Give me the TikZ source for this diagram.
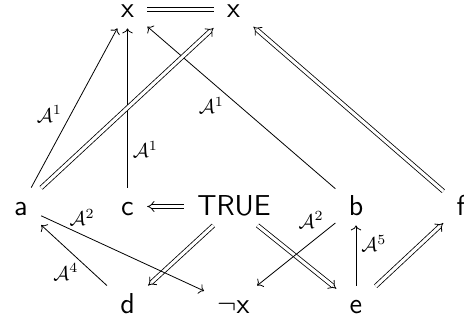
\documentclass[tikz,border=0pt]{standalone}
\usepackage{amsmath,amssymb}
\usepackage{tikz}
\usetikzlibrary{calc, positioning, arrows.meta}

\begin{document}
\begin{tikzpicture}[
  x=0.5pt, y=-0.5pt,
  objnode/.style={font=\Large\sffamily, anchor=base, text height=10pt, text depth=1.5pt, inner xsep=6.5pt, inner ysep=3.5pt},
  maparrow/.style={-{To}},
  implarrow/.style={double equal sign distance, -{Implies}},
  eqline/.style={double equal sign distance},
  maplabel/.style={font=\normalsize, inner sep=1pt}
]
\useasboundingbox (0,0) rectangle (464,320);
% top row
\node[objnode] (xl) at (127.5,18) {x};
\node[objnode] (xr) at (233.5,18) {x};
% middle row
\node[objnode] (a) at (21,215) {a};
\node[objnode] (c) at (127.5,215) {c};
\node[objnode] (true) at (234,215) {TRUE};
\node[objnode] (b) at (356,215) {b};
\node[objnode] (f) at (461,215) {f};
% bottom row
\node[objnode] (d) at (127.5,313) {d};
\node[objnode] (negx) at (233.5,313) {$\neg$x};
\node[objnode] (e) at (356,313) {e};

\draw[eqline] (xl) -- (xr);
\draw[maparrow] (a) -- (xl) node[maplabel, midway, left=5pt, yshift=-3pt] {$\mathcal{A}^1$};
\draw[maparrow] (c) -- (xl) node[maplabel, pos=0.24, right=1.5pt] {$\mathcal{A}^1$};
\draw[maparrow] (b) -- (xl) node[maplabel, pos=0.58, below left] {$\mathcal{A}^1$};
\draw[implarrow] (a) -- (xr);
\draw[implarrow] (f) -- (xr);
\draw[implarrow] (true) -- (c);
\draw[implarrow] (true) -- (d);
\draw[implarrow] (true) -- (e);
\draw[implarrow] (e) -- (f);
\draw[maparrow] (a) -- (negx) node[maplabel, pos=0.16, above right] {$\mathcal{A}^2$};
\draw[maparrow] (d) -- (a) node[maplabel, pos=0.4, below left] {$\mathcal{A}^4$};
\draw[maparrow] (b) -- (negx) node[maplabel, pos=0.12, above left] {$\mathcal{A}^2$};
\draw[maparrow] (e) -- (b) node[maplabel, pos=0.7, right=1.5pt] {$\mathcal{A}^5$};
\end{tikzpicture}
\end{document}
